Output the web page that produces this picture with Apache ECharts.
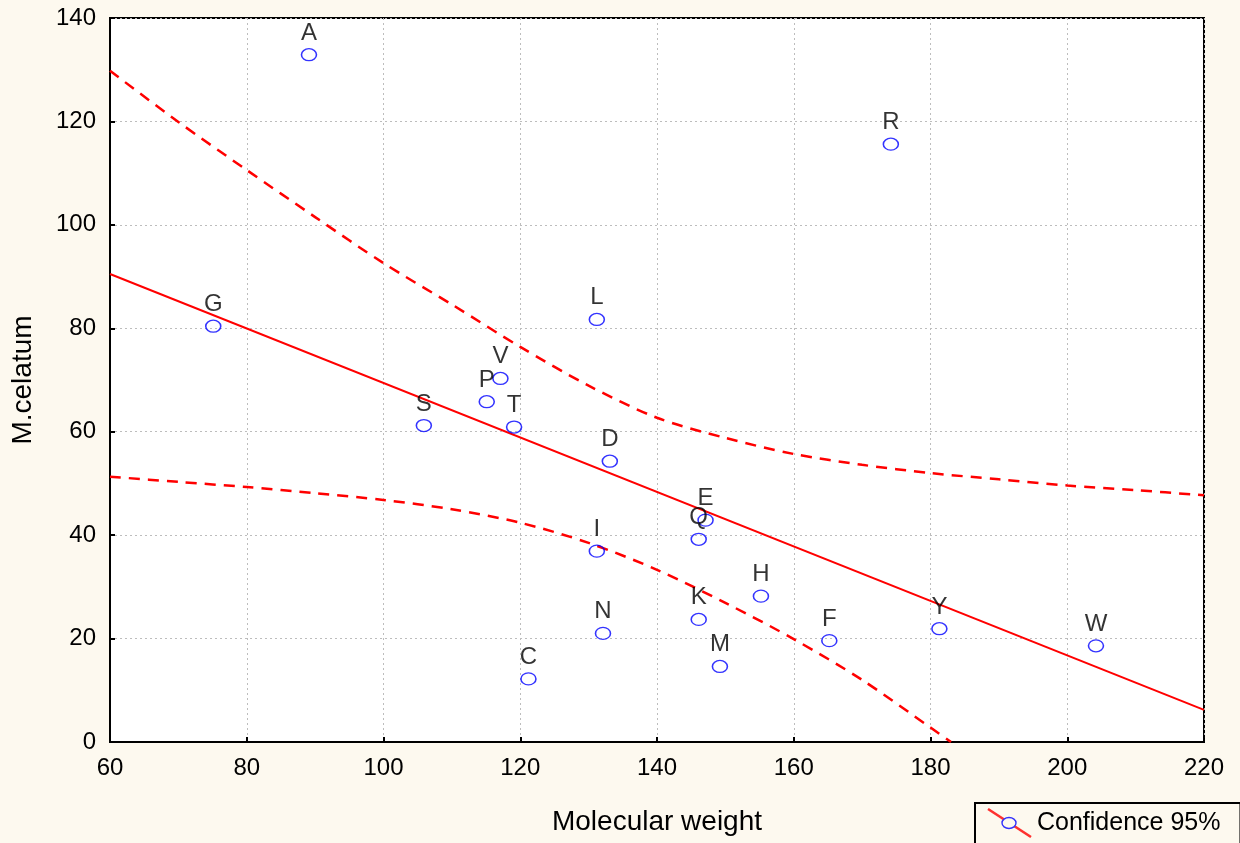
<!DOCTYPE html>
<html>
<head>
<meta charset="utf-8">
<script src="https://cdn.jsdelivr.net/npm/echarts@6/dist/echarts.min.js"></script>
<style>
  html, body { margin: 0; padding: 0; background: #fdf9ef; }
  #chart { width: 1240px; height: 843px; }
</style>
</head>
<body>
<div id="chart"></div>
<script>
// amino acids: molecular weight vs M.celatum
var names   = ['A', 'R', 'N', 'D', 'C', 'Q', 'E', 'G', 'H', 'I', 'L', 'K', 'M', 'F', 'P', 'S', 'T', 'W', 'Y', 'V'];
var weights = [89.1, 174.2, 132.1, 133.1, 121.2, 146.1, 147.1, 75.1, 155.2, 131.2, 131.2, 146.1, 149.2, 165.2, 115.1, 105.9, 119.1, 204.2, 181.3, 117.1];
var celatum = [132.9, 115.6, 21.0, 54.3, 12.2, 39.2, 42.9, 80.4, 28.2, 36.9, 81.7, 23.7, 14.6, 19.6, 65.8, 61.2, 60.9, 18.6, 21.9, 70.3];

// regression line and 95% confidence band
var fitX   = [60, 220];
var fitY   = [90.5, 6.2];
var bandX  = [60, 70, 80, 90, 100, 110, 120, 130, 140, 150, 160, 170, 180, 190, 200, 210, 220];
var upperY = [129.8, 119.9, 110.6, 101.5, 92.6, 84.6, 76.4, 68.9, 62.7, 58.8, 55.7, 53.6, 52.0, 50.8, 49.6, 48.7, 47.7];
var lowerX = [60, 70, 80, 90, 100, 110, 120, 130, 140, 150, 160, 170, 180, 183];
var lowerY = [51.3, 50.3, 49.3, 48.1, 46.8, 45.0, 42.4, 38.5, 33.3, 26.9, 19.9, 12.0, 2.8, 0];

function pairs(xs, ys) {
	var out = [];
	for (var i = 0; i < xs.length; i++) out.push([xs[i], ys[i]]);
	return out;
}

var points = [];
for (var i = 0; i < names.length; i++) {
	points.push({ name: names[i], value: [weights[i], celatum[i]] });
}

var font = 'Liberation Sans, Arial, sans-serif';
var legendIcon = 'image://data:image/svg+xml;utf8,' + encodeURIComponent(
	'<svg xmlns="http://www.w3.org/2000/svg" width="45" height="30">' +
	'<line x1="1" y1="1" x2="44" y2="29" stroke="#ff0000" stroke-width="2.5"/>' +
	'<ellipse cx="22" cy="15" rx="7" ry="5.5" fill="#fdf9ef" stroke="#0000ff" stroke-width="1.4"/>' +
	'</svg>');

var axisCommon = {
	axisLine: { lineStyle: { color: '#000', width: 2 } },
	axisTick: { inside: true, length: 5, lineStyle: { color: '#000', width: 2 } },
	axisLabel: { color: '#000', fontSize: 24, fontFamily: font },
	splitLine: { show: true, lineStyle: { color: '#bdbdbd', type: [2, 3], width: 1 } },
	nameTextStyle: { color: '#000', fontSize: 28, fontFamily: font }
};

var option = {
	animation: false,
	backgroundColor: '#fdf9ef',
	grid: {
		left: 110, top: 18, right: 36, bottom: 101,
		show: true, backgroundColor: '#fff', borderColor: '#000', borderWidth: 2
	},
	legend: {
		data: [{ name: 'Confidence 95%', icon: legendIcon }],
		left: 975, top: 803,
		itemWidth: 45, itemHeight: 30, itemGap: 0,
		padding: [5, 20, 14, 12],
		borderColor: '#000', borderWidth: 2,
		textStyle: { color: '#000', fontSize: 25, fontFamily: font },
		selectedMode: false
	},
	xAxis: Object.assign({}, axisCommon, {
		type: 'value', min: 60, max: 220, interval: 20,
		name: 'Molecular weight', nameLocation: 'middle', nameGap: 66,
		axisLabel: Object.assign({}, axisCommon.axisLabel, { margin: 14 })
	}),
	yAxis: Object.assign({}, axisCommon, {
		type: 'value', min: 0, max: 140, interval: 20,
		name: 'M.celatum', nameLocation: 'middle', nameGap: 73,
		axisLabel: Object.assign({}, axisCommon.axisLabel, { margin: 14 })
	}),
	series: [
		{
			type: 'line', data: pairs(bandX, upperY), showSymbol: false, silent: true, smooth: 0.3,
			lineStyle: { color: '#ff0000', width: 2.5, type: [11, 8] }
		},
		{
			type: 'line', data: pairs(lowerX, lowerY), showSymbol: false, silent: true, smooth: 0.3,
			lineStyle: { color: '#ff0000', width: 2.5, type: [11, 8] }
		},
		{
			type: 'line', data: pairs(fitX, fitY), showSymbol: false, silent: true,
			lineStyle: { color: '#ff0000', width: 2 }
		},
		{
			name: 'Confidence 95%',
			type: 'scatter',
			data: points,
			symbol: 'circle',
			symbolSize: [15, 12],
			itemStyle: { color: 'rgba(255,255,255,0)', borderColor: '#0000ff', borderWidth: 1.4 },
			label: {
				show: true, position: 'top', distance: 3,
				formatter: '{b}', color: '#000', fontSize: 24, fontFamily: font
			},
			z: 5
		}
	]
};

var chart = echarts.init(document.getElementById('chart'));
chart.setOption(option);
</script>
</body>
</html>
